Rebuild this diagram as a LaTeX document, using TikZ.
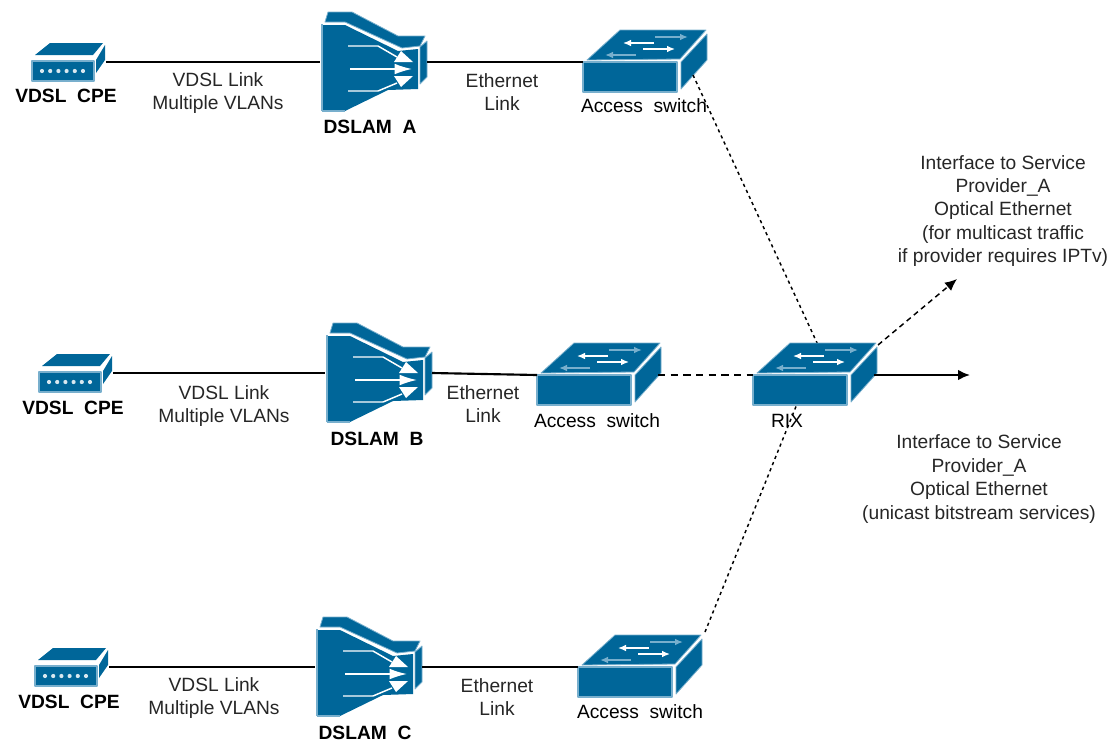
\documentclass[tikz,border=0pt]{standalone}
\usepackage{fontspec}
\setmainfont{Liberation Sans}
\usetikzlibrary{arrows.meta}

\definecolor{iconblue}{RGB}{0,102,153}
\definecolor{iconedge}{RGB}{120,175,205}

\tikzset{
    lbl/.style={font=\fontsize{14.4}{17.6}\selectfont,text=black!85,align=center,inner sep=0pt},
    devlbl/.style={font=\fontsize{14.4}{17.6}\selectfont\bfseries,inner sep=0pt},
    swlbl/.style={font=\fontsize{14.4}{17.6}\selectfont,inner sep=0pt},
    link/.style={draw=black,line width=1.6pt},
    dotlink/.style={draw=black,line width=1.1pt,dash pattern=on 2.4pt off 2.6pt},
    dashlink/.style={draw=black,line width=1.1pt,dash pattern=on 5.5pt off 4pt},
    body/.style={fill=iconblue,draw=iconedge,line width=0.9pt,line join=round},
    icon/.style={transform shape},
    cpe/.pic={
        \draw [body] (0,0) rectangle (62,20);
        \fill [iconblue] (3,-6) -- (18,-18) -- (71,-18) -- (61,-6) -- cycle;
        \fill [iconblue] (64,-1) -- (73,-16) -- (73,-1) -- (64,12) -- cycle;
        \foreach \i in {0,1,2,3,4,5} \fill [white!85!iconblue] (10+8.2*\i,10) circle (2.1);
        \coordinate (-e) at (74,1);
    },
    dslam/.pic={
        \draw [body,line width=0.6pt] (3,-2) -- (6,-12) -- (30,-12) -- (76,12) -- (103,12) -- (98,22) -- (80,24) -- (23,-2) -- cycle;
        \fill [iconblue] (0,1) -- (23,1) -- (76,27) -- (96,25) -- (96,65) -- (66,66) -- (23,87) -- (0,87) -- cycle;
        \draw [iconedge,line width=1.2pt] (0,87) -- (0,0);
        \draw [iconedge,line width=0.8pt] (0,87) -- (23,87);
        \draw [body,line width=0.6pt] (98,23) -- (105,17) -- (105,53) -- (98,60) -- cycle;
        \draw [white,line width=1.1pt] (26,22) -- (56,22) -- (75,33);
        \draw [white,line width=1.1pt] (26,67) -- (56,67) -- (75,59);
        \draw [white,line width=1.2pt,-{Latex[length=13pt,width=8pt]}] (28,45) -- (90,45);
        \fill [white] (91,38) -- (79,27) -- (72,38) -- cycle;
        \fill [white] (91,52) -- (79,63) -- (72,52) -- cycle;
        \coordinate (-w) at (-2,38);
        \coordinate (-e) at (105,38);
    },
    switchbox/.pic={
        \draw [body] (0,0) rectangle (94,30);
        \draw [body,line width=0.6pt] (4,-2) -- (37,-32) -- (123,-32) -- (97,-3) -- cycle;
        \draw [body,line width=0.6pt] (98,0) -- (124,-28) -- (124,-2) -- (98,27) -- cycle;
        \draw [white,line width=1pt,-{Latex[length=6pt,width=5pt]}] (71,-19) -- (40,-19);
        \draw [white,line width=1pt,-{Latex[length=6pt,width=5pt]}] (60,-13) -- (92,-13);
        \draw [iconedge,line width=1.4pt,-{Latex[length=6pt,width=5pt]}] (72,-25) -- (105,-25);
        \draw [iconedge,line width=1.4pt,-{Latex[length=6pt,width=5pt]}] (53,-7) -- (22,-7);
        \coordinate (-w) at (0,0);
        \coordinate (-e) at (121,0);
        \coordinate (-side) at (110,13);
        \coordinate (-corner) at (127,-35);
    },
}

\begin{document}
\begin{tikzpicture}[x=0.75pt,y=0.75pt,yscale=-1,xscale=1]
    \useasboundingbox (0,0) rectangle (1112,743);

    % Free ends
    \coordinate (mcastEnd) at (957,279);
    \coordinate (ucastEnd) at (970,375);
    \coordinate (rixTop) at (818,345);
    \coordinate (rixBottom) at (797,404);
    \coordinate (rixSide) at (878,345);

    % Dotted links run under the RIX icon
    \pic [icon] (swA) at (583,62) {switchbox};
    \pic [icon] (swB) at (537,375) {switchbox};
    \pic [icon] (swC) at (578,667) {switchbox};
    \draw [dotlink] (swA-side) -- (rixTop);
    \draw [dotlink] (swC-corner) -- (rixBottom);
    \pic [icon] (rix) at (753,375) {switchbox};

    % CPE
    \pic [icon] (cpeA) at (32,61) {cpe};
    \pic [icon] (cpeB) at (39,372) {cpe};
    \pic [icon] (cpeC) at (35,666) {cpe};
    % DSLAM
    \pic [icon] (dslamA) at (322,24) {dslam};
    \pic [icon] (dslamB) at (327,335) {dslam};
    \pic [icon] (dslamC) at (317,629) {dslam};

    % Links
    \draw [link] (cpeA-e) -- (dslamA-w);
    \draw [link] (cpeB-e) -- (dslamB-w);
    \draw [link] (cpeC-e) -- (dslamC-w);
    \draw [link] (dslamA-e) -- (swA-w);
    \draw [link] (dslamB-e) -- (swB-w);
    \draw [link] (dslamC-e) -- (swC-w);
    \draw [dashlink] (swB-e) -- (rix-w);
    \draw [link,-{Latex[length=9pt,width=8pt]}] (rix-e) -- (ucastEnd);
    \draw [dashlink,dash pattern=on 4pt off 3pt,-{Latex[length=9pt,width=8pt]}] (rixSide) -- (mcastEnd);

    % Text Node
    \node (cpeAlbl) [devlbl] at (66,96) {VDSL\ \ CPE};
    \node (cpeBlbl) [devlbl] at (73,408) {VDSL\ \ CPE};
    \node (cpeClbl) [devlbl] at (69,702) {VDSL\ \ CPE};
    % Text Node
    \node (vdslA) [lbl] at (218,93) {VDSL Link\\Multiple VLANs};
    \node (vdslB) [lbl] at (224,406) {VDSL Link\\Multiple VLANs};
    \node (vdslC) [lbl] at (214,698) {VDSL Link\\Multiple VLANs};
    % Text Node
    \node (dslamAlbl) [devlbl] at (370,127) {DSLAM\ \ A};
    \node (dslamBlbl) [devlbl] at (377,439) {DSLAM\ \ B};
    \node (dslamClbl) [devlbl] at (365,733) {DSLAM\ \ C};
    % Text Node
    \node (ethA) [lbl] at (502,92) {Ethernet\\Link};
    \node (ethB) [lbl] at (483,404) {Ethernet\\Link};
    \node (ethC) [lbl] at (497,697) {Ethernet\\Link};
    % Text Node
    \node (swAlbl) [swlbl] at (644,106) {Access\ \ switch};
    \node (swBlbl) [swlbl] at (597,421) {Access\ \ switch};
    \node (swClbl) [swlbl] at (640,712) {Access\ \ switch};
    \node (rixlbl) [swlbl] at (787,421) {RIX};
    % Text Node
    \node (mcastlbl) [lbl] at (1003,211) {Interface to Service\\Provider\_A\\Optical Ethernet\\(for multicast traffic\\if provider requires IPTv)};
    % Text Node
    \node (ucastlbl) [lbl] at (979,479) {Interface to Service\\Provider\_A\\Optical Ethernet\\(unicast bitstream services)};
\end{tikzpicture}
\end{document}
